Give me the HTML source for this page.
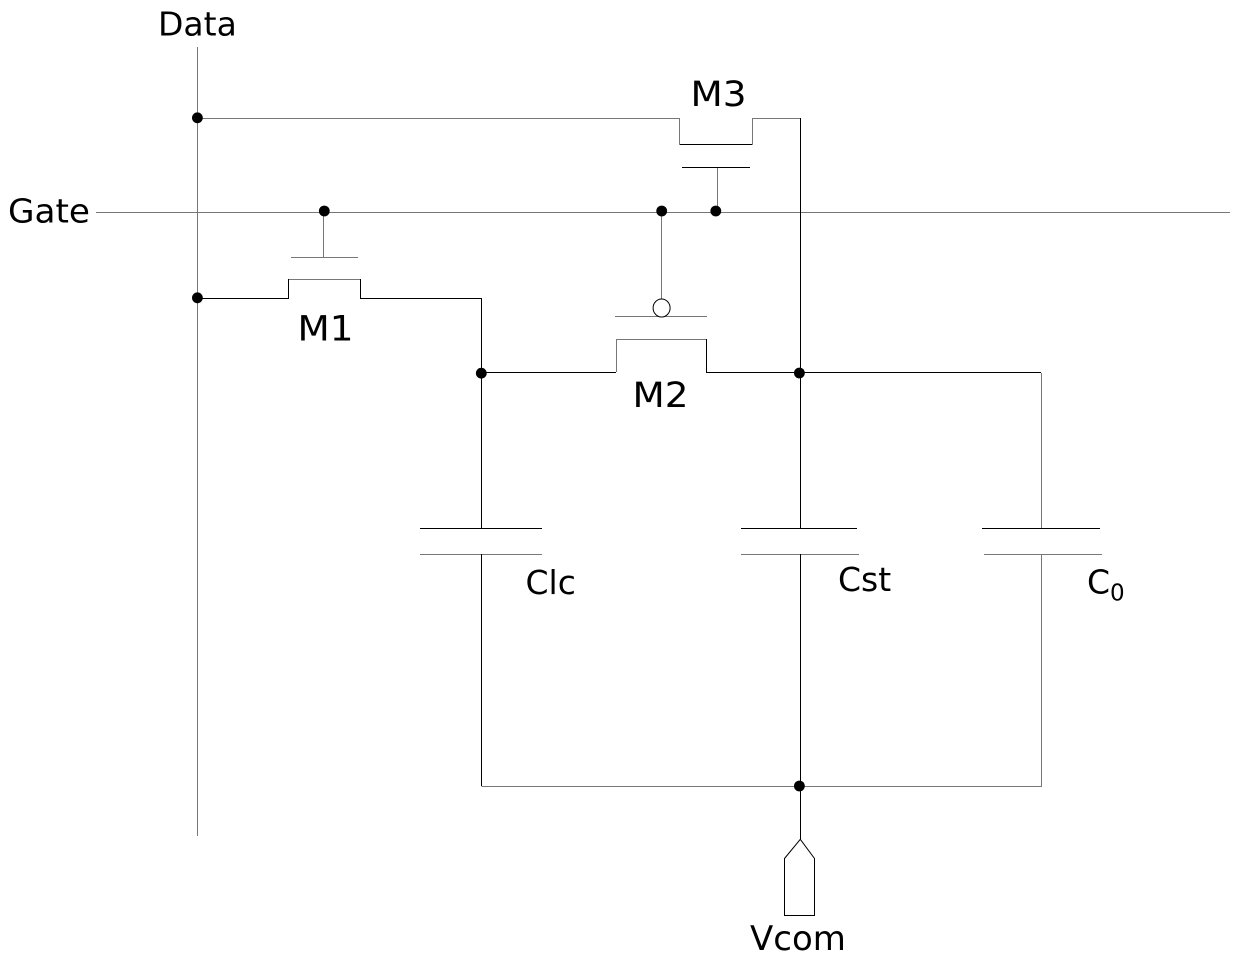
<!DOCTYPE html>
<html>
<head>
<meta charset="utf-8">
<style>
html,body{margin:0;padding:0;background:#fff;}
svg{display:block;}
text{font-family:"DejaVu Sans",sans-serif;font-size:33px;fill:#000;}
</style>
</head>
<body>
<svg width="1240" height="960" viewBox="0 0 1240 960" xmlns="http://www.w3.org/2000/svg">
<g fill="none" stroke="#777" stroke-width="1" shape-rendering="crispEdges">
<path d="M197.500 47V836"/>
<path d="M96 212.500H1230"/>
<path d="M323.500 212V257"/>
<path d="M291 257.500H358"/>
<path d="M661.500 212V300"/>
<path d="M615 316.500H707"/>
<path d="M717.500 212V168"/>
<path d="M197 118.500H679.500V144"/>
<path d="M752.500 144V118.500H800"/>
<path d="M289 279.500H360"/>
<path d="M616.500 372V339.500H706"/>
<path d="M1041.500 373V528"/>
<path d="M984 554.500H1102"/>
<path d="M420 554.500H542"/>
<path d="M741 554.500H859"/>
<path d="M1041.500 554V786.500H481.500"/>
</g>
<g fill="none" stroke="#000" stroke-width="1" shape-rendering="crispEdges">
<path d="M679.500 144.500H752.500"/>
<path d="M682 167.500H750"/>
<path d="M800.500 118V528"/>
<path d="M197 298.500H288.500V279"/>
<path d="M360.500 279V298.500H481.500V528"/>
<path d="M481 372.500H616"/>
<path d="M706.500 339V372.500H1041"/>
<path d="M420 528.500H542"/>
<path d="M741 528.500H857"/>
<path d="M982 528.500H1100"/>
<path d="M481.500 554V786"/>
<path d="M800.500 554V839"/>
</g>
<path d="M784.500 858.500L800.300 839.300L814.500 858.500V915.500H784.500Z" fill="#fff" stroke="#000" stroke-width="1"/>
<ellipse cx="661.600" cy="308" rx="8.500" ry="9" fill="#fff" stroke="#000" stroke-width="1"/>
<g fill="#000">
<circle cx="197.400" cy="117.800" r="5.400"/>
<circle cx="197.400" cy="297.800" r="5.400"/>
<circle cx="324.300" cy="211" r="5.400"/>
<circle cx="661.700" cy="211" r="5.400"/>
<circle cx="715.800" cy="211" r="5.400"/>
<circle cx="481.300" cy="373.200" r="5.400"/>
<circle cx="799.400" cy="373" r="5.400"/>
<circle cx="799.400" cy="786" r="5.400"/>
</g>
<text x="158" y="35.500">Data</text>
<text x="8" y="222.500" textLength="82" lengthAdjust="spacingAndGlyphs">Gate</text>
<text x="690.500" y="106" style="font-size:35px" textLength="56" lengthAdjust="spacingAndGlyphs">M3</text>
<text x="297.500" y="340.500" style="font-size:35px" textLength="56" lengthAdjust="spacingAndGlyphs">M1</text>
<text x="632.500" y="407" style="font-size:35px" textLength="56" lengthAdjust="spacingAndGlyphs">M2</text>
<text x="525.500" y="594">Clc</text>
<text x="838" y="591">Cst</text>
<text x="1087" y="593.500">C<tspan style="font-size:23px" dy="7">0</tspan></text>
<text x="750" y="950" style="font-size:34px">Vcom</text>
</svg>
</body>
</html>
